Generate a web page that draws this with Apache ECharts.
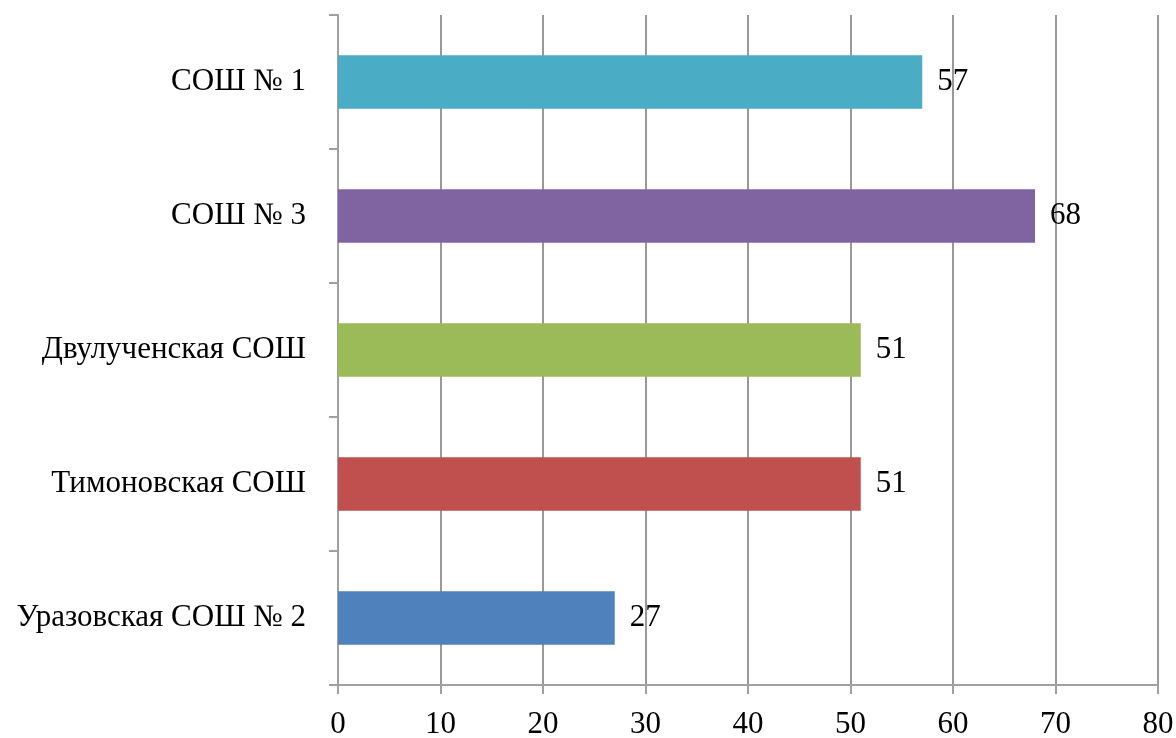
<!DOCTYPE html>
<html>
<head>
<meta charset="utf-8">
<script src="https://cdn.jsdelivr.net/npm/echarts@6/dist/echarts.min.js"></script>
<style>
  html, body { margin: 0; padding: 0; background: #fff; }
  #chart { width: 1176px; height: 738px; }
</style>
</head>
<body>
<div id="chart"></div>
<script>
  'use strict'

  // bottom to top, as the value axis is drawn
  var schools = ['Уразовская СОШ № 2', 'Тимоновская СОШ', 'Двулученская СОШ', 'СОШ № 3', 'СОШ № 1'];
  var values = [27, 51, 51, 68, 57];
  var barColors = ['#4f81bd', '#c0504d', '#9bbb59', '#8064a2', '#4bacc6'];
  var xTicks = [0, 10, 20, 30, 40, 50, 60, 70, 80];

  var font = 'Liberation Serif';

  var chart = echarts.init(document.getElementById('chart'));

  var option = {
    animation: false,
    grid: {
      top: 15,
      right: 18,
      bottom: 53,
      left: 338,
      outerBoundsMode: 'none'
    },
    xAxis: {
      type: 'value',
      min: xTicks[0],
      max: xTicks[xTicks.length - 1],
      interval: 10,
      axisLine: { show: true, lineStyle: { color: '#a0a0a0', width: 2 } },
      axisTick: { show: true, length: 9, lineStyle: { color: '#a0a0a0', width: 2 } },
      splitLine: { show: true, lineStyle: { color: '#999999', width: 2 } },
      axisLabel: {
        margin: 24,
        fontFamily: font,
        fontSize: 31,
        color: '#000'
      }
    },
    yAxis: {
      type: 'category',
      data: schools,
      axisLine: { show: true, lineStyle: { color: '#a0a0a0', width: 2 } },
      axisTick: { show: true, length: 9, lineStyle: { color: '#a0a0a0', width: 2 } },
      splitLine: { show: false },
      axisLabel: {
        margin: 32,
        fontFamily: font,
        fontSize: 31,
        color: '#000'
      }
    },
    series: [{
      type: 'bar',
      barCategoryGap: '60%',
      data: values.map(function (v, i) {
        return { value: v, itemStyle: { color: barColors[i] } };
      }),
      label: {
        show: true,
        position: 'right',
        distance: 15,
        fontFamily: font,
        fontSize: 31,
        color: '#000'
      }
    }]
  };
  chart.setOption(option);
</script>
</body>
</html>
